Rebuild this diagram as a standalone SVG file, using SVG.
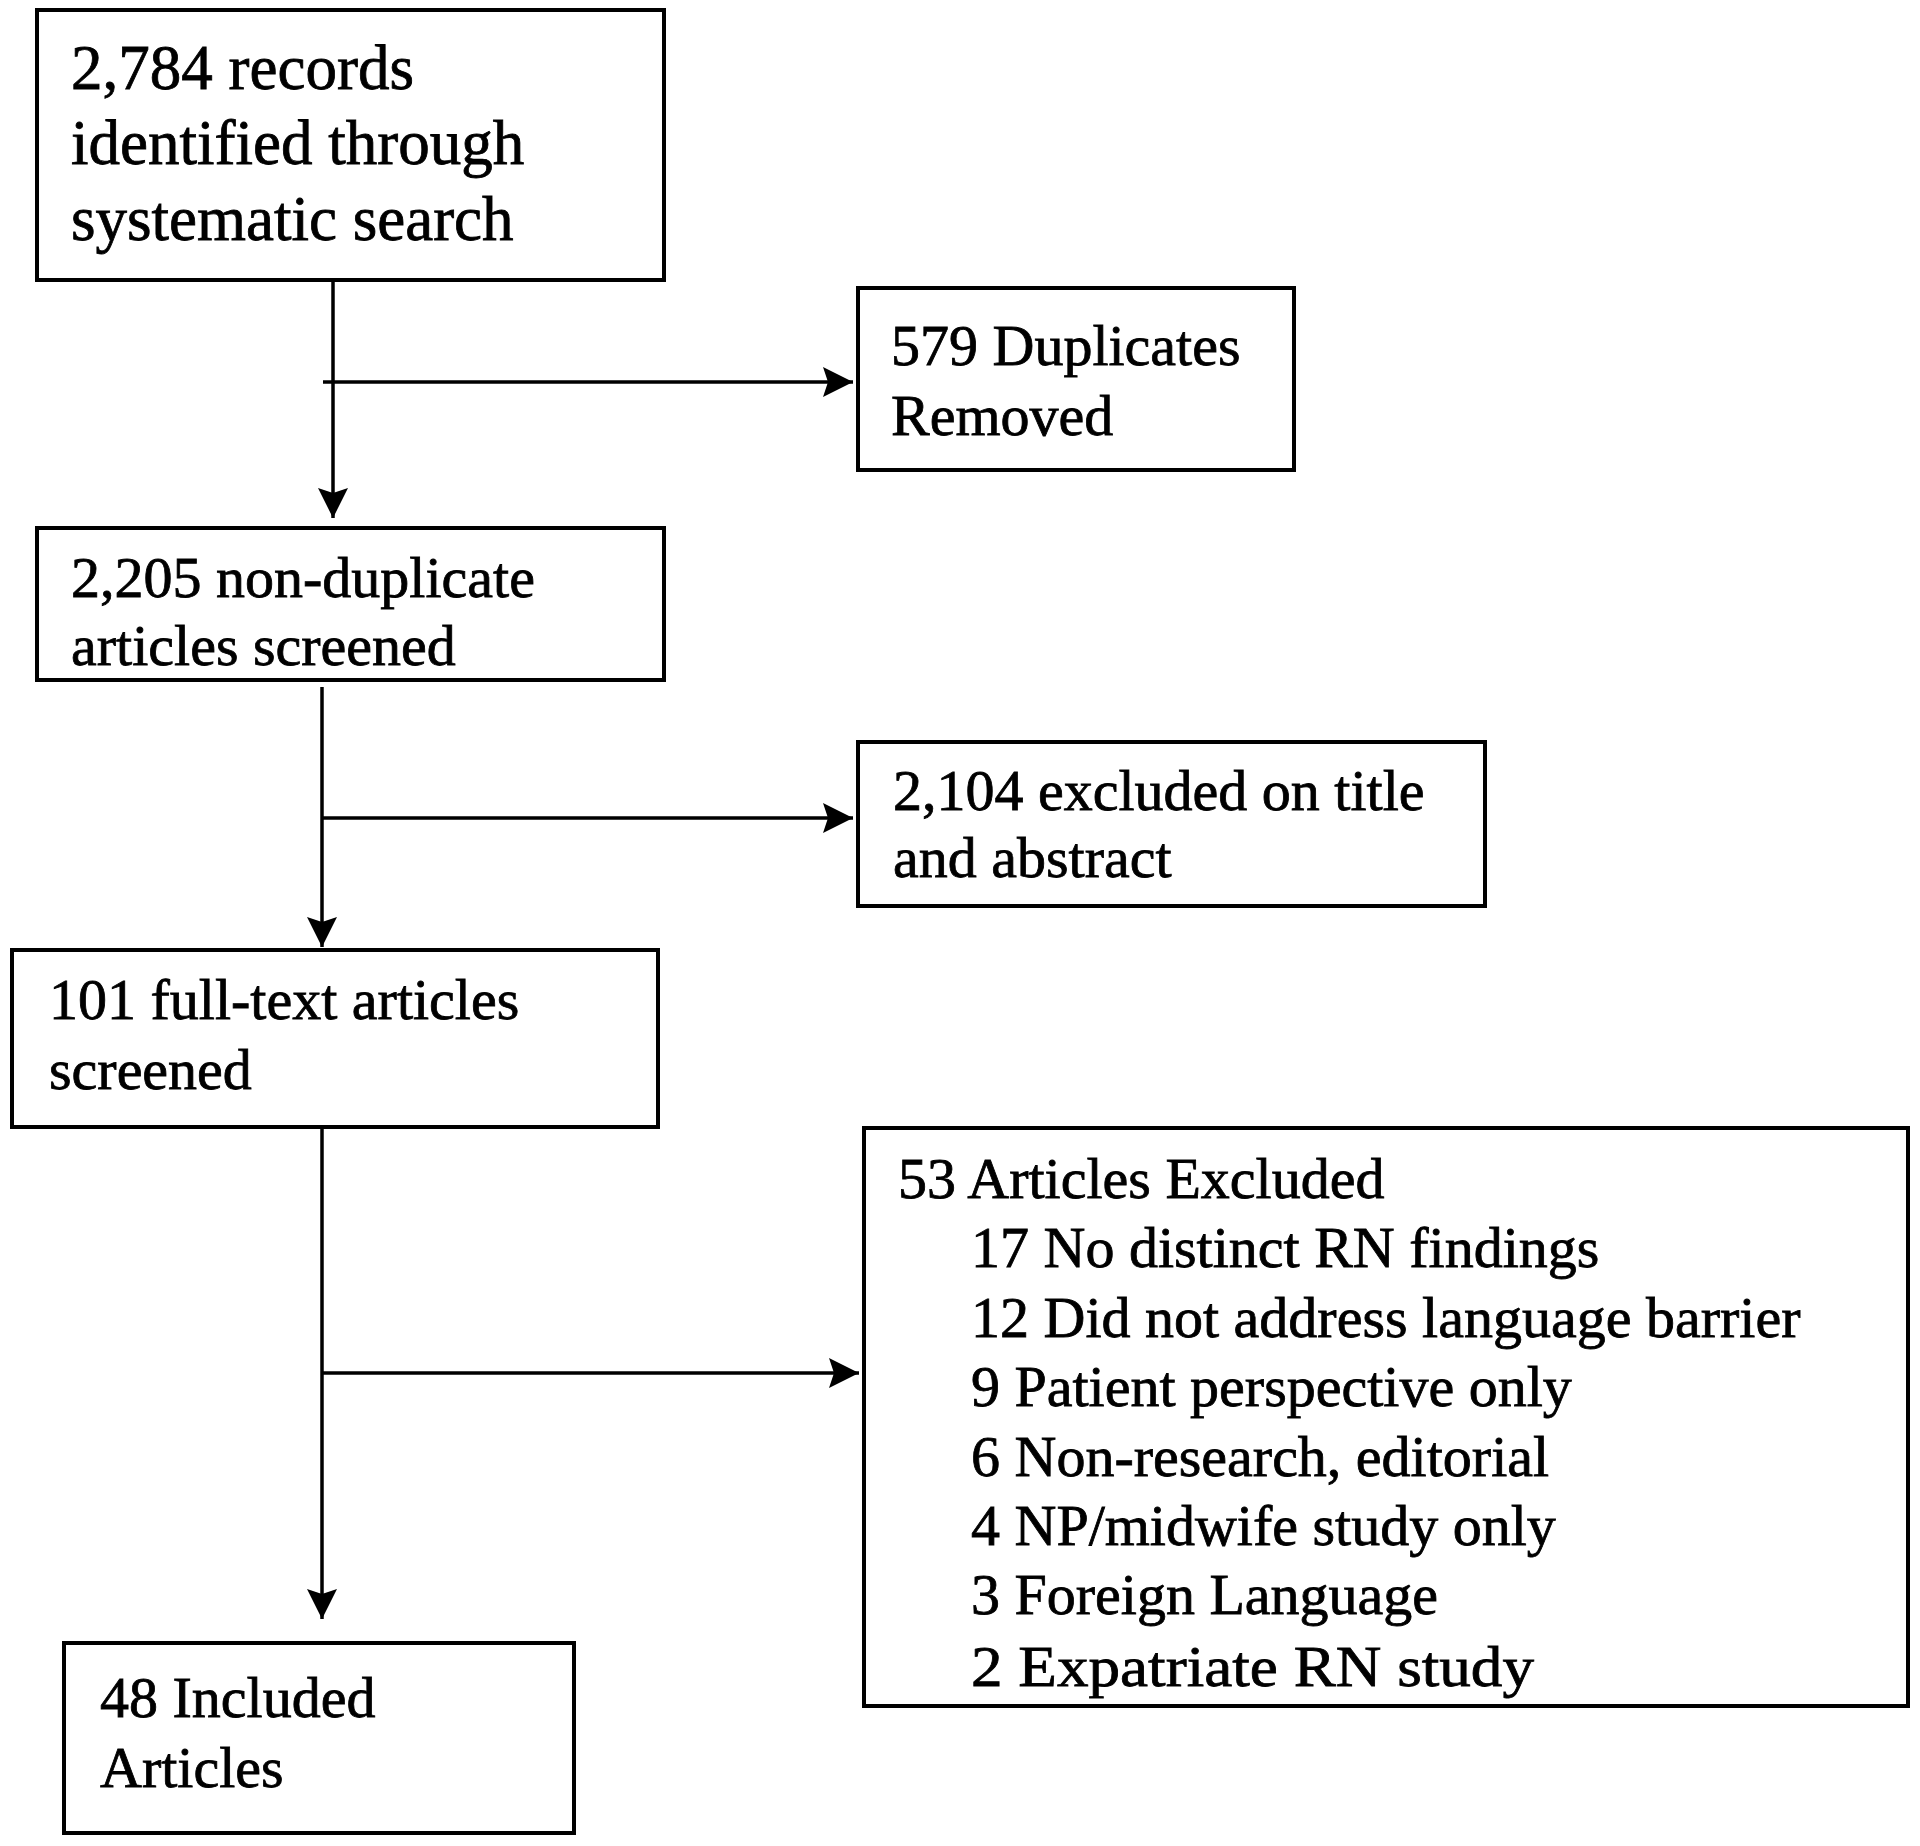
<svg xmlns="http://www.w3.org/2000/svg" width="1920" height="1846" viewBox="0 0 1920 1846">
<style>
.box{fill:#fff;stroke:#000;stroke-width:4}
.t{font-family:"Liberation Serif","Times New Roman",serif;font-size:58px;fill:#000;stroke:#000;stroke-width:0.8}
.big{font-size:63px}
.c{stroke:#000;stroke-width:3.5;fill:none}
</style>
<defs>
<marker id="ah" markerUnits="userSpaceOnUse" markerWidth="32" markerHeight="32" refX="30" refY="15" orient="auto">
<path d="M0,0 L30,15 L0,30 L5,15 z" fill="#000"/>
</marker>
</defs>
<rect width="1920" height="1846" fill="#fff"/>
<g id="connectors">
<line class="c" x1="333" y1="280" x2="333" y2="518" marker-end="url(#ah)"/>
<line class="c" x1="323" y1="382" x2="853" y2="382" marker-end="url(#ah)"/>
<line class="c" x1="322" y1="687" x2="322" y2="947" marker-end="url(#ah)"/>
<line class="c" x1="322" y1="818" x2="853" y2="818" marker-end="url(#ah)"/>
<line class="c" x1="322" y1="1127" x2="322" y2="1619" marker-end="url(#ah)"/>
<line class="c" x1="321" y1="1373" x2="859" y2="1373" marker-end="url(#ah)"/>
</g>
<g id="n1">
<rect class="box" x="37" y="10" width="627" height="270"/>
<text class="t big" x="71" y="89">2,784 records</text>
<text class="t big" x="71" y="164">identified through</text>
<text class="t big" x="71" y="240">systematic search</text>
</g>
<g id="n2">
<rect class="box" x="858" y="288" width="436" height="182"/>
<text class="t" x="891" y="365">579 Duplicates</text>
<text class="t" x="891" y="435">Removed</text>
</g>
<g id="n3">
<rect class="box" x="37" y="528" width="627" height="152"/>
<text class="t" x="71" y="597">2,205 non-duplicate</text>
<text class="t" x="71" y="665">articles screened</text>
</g>
<g id="n4">
<rect class="box" x="858" y="742" width="627" height="164"/>
<text class="t" x="893" y="810">2,104 excluded on title</text>
<text class="t" x="893" y="877">and abstract</text>
</g>
<g id="n5">
<rect class="box" x="12" y="950" width="646" height="177"/>
<text class="t" x="49" y="1019">101 full-text articles</text>
<text class="t" x="49" y="1089">screened</text>
</g>
<g id="n6">
<rect class="box" x="864" y="1128" width="1044" height="578"/>
<text class="t" x="898" y="1198">53 Articles Excluded</text>
<text class="t" x="971" y="1267">17 No distinct RN findings</text>
<text class="t" x="971" y="1337">12 Did not address language barrier</text>
<text class="t" x="971" y="1406">9 Patient perspective only</text>
<text class="t" x="971" y="1476">6 Non-research, editorial</text>
<text class="t" x="971" y="1545">4 NP/midwife study only</text>
<text class="t" x="971" y="1614">3 Foreign Language</text>
<text class="t" x="971" y="1686" textLength="563" lengthAdjust="spacingAndGlyphs">2 Expatriate RN study</text>
</g>
<g id="n7">
<rect class="box" x="64" y="1643" width="510" height="190"/>
<text class="t" x="100" y="1717">48 Included</text>
<text class="t" x="100" y="1787">Articles</text>
</g>
</svg>
